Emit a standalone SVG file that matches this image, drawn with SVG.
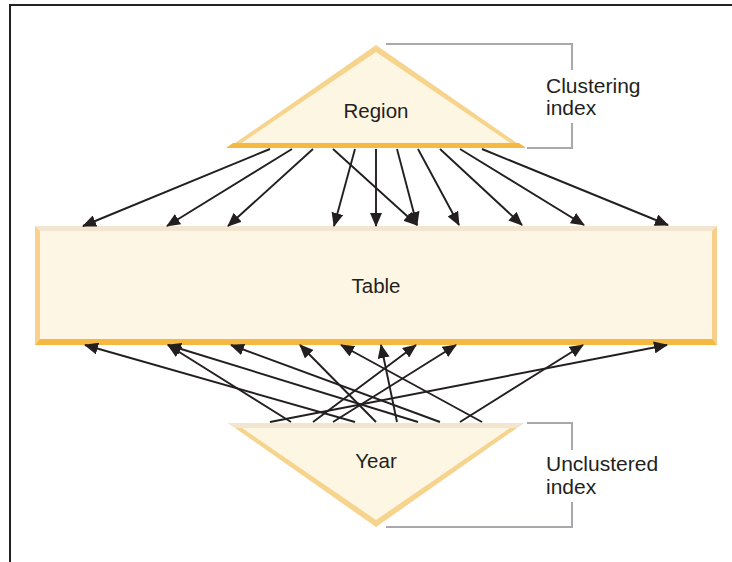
<svg xmlns="http://www.w3.org/2000/svg" width="732" height="562" viewBox="0 0 732 562">
<style>
.lbl{font-family:"Liberation Sans",Arial,sans-serif;font-size:20.5px;fill:#231f20}
.side{font-family:"Liberation Sans",Arial,sans-serif;font-size:21px;fill:#231f20}
.arr{stroke:#231f20;stroke-width:1.9;fill:none;marker-end:url(#ah)}
.br{stroke:#a9a9ad;stroke-width:2;fill:none}
</style>
<defs>
<marker id="ah" viewBox="0 0 14 12" refX="13" refY="6" markerWidth="14" markerHeight="12" markerUnits="userSpaceOnUse" orient="auto">
<path d="M0,0 L14,6 L0,12 Z" fill="#231f20"/>
</marker>
</defs>
<rect width="732" height="562" fill="#ffffff"/>
<path d="M10,562 V5 H732" stroke="#222" stroke-width="2" fill="none"/>
<g id="region">
<polygon points="376,45 228,148 524,148" fill="#f7d48e"/>
<polygon points="376,52 240,144 512,144" fill="#fdf6e2"/>
<polygon points="233,143 519,143 526,148 226,148" fill="#f5b841"/>
<text class="lbl" x="376" y="118" text-anchor="middle">Region</text>
</g>
<g id="clustering-index">
<path class="br" d="M386,44 H572 V70 M572,123 V148 H527"/>
<text class="side" x="546" y="93">Clustering</text>
<text class="side" x="546" y="115">index</text>
</g>
<g id="table">
<rect x="35" y="226" width="682" height="119" fill="#fef6e4"/>
<polygon points="35,226 717,226 712,231 40,231" fill="#f3e6d0"/>
<polygon points="35,226 40,231 40,340 35,345" fill="#f8d28c"/>
<polygon points="717,226 712,231 712,340 717,345" fill="#f5cf8b"/>
<polygon points="35,345 40,339 712,339 717,345" fill="#f5b841"/>
<text class="lbl" x="376" y="293" text-anchor="middle">Table</text>
</g>
<g id="year">
<polygon points="228,423 524,423 376,527" fill="#f7d48e"/>
<polygon points="242,428 510,428 376,520" fill="#fdf6e2"/>
<polygon points="228,423 524,423 517,428 235,428" fill="#f3e6d0"/>
<text class="lbl" x="376" y="468" text-anchor="middle">Year</text>
</g>
<g id="unclustered-index">
<path class="br" d="M527,423 H572 V450 M572,502 V527 H386"/>
<text class="side" x="546" y="471">Unclustered</text>
<text class="side" x="546" y="494">index</text>
</g>
<g id="connectors">
<line class="arr" x1="270" y1="149" x2="83" y2="226"/>
<line class="arr" x1="292" y1="149" x2="167" y2="226"/>
<line class="arr" x1="313" y1="149" x2="228" y2="226"/>
<line class="arr" x1="333" y1="149" x2="417" y2="225"/>
<line class="arr" x1="355" y1="149" x2="334" y2="226"/>
<line class="arr" x1="376" y1="149" x2="376" y2="226"/>
<line class="arr" x1="397" y1="149" x2="417" y2="225"/>
<line class="arr" x1="418" y1="149" x2="459" y2="225"/>
<line class="arr" x1="440" y1="149" x2="522" y2="225"/>
<line class="arr" x1="460" y1="149" x2="584" y2="225"/>
<line class="arr" x1="482" y1="149" x2="668" y2="225"/>
<line class="arr" x1="355" y1="422" x2="85" y2="345"/>
<line class="arr" x1="291" y1="422" x2="168" y2="345"/>
<line class="arr" x1="418" y1="422" x2="168" y2="345"/>
<line class="arr" x1="440" y1="422" x2="231" y2="345"/>
<line class="arr" x1="376" y1="422" x2="300" y2="345"/>
<line class="arr" x1="482" y1="422" x2="341" y2="345"/>
<line class="arr" x1="397" y1="422" x2="381" y2="345"/>
<line class="arr" x1="313" y1="422" x2="416" y2="345"/>
<line class="arr" x1="333" y1="422" x2="456" y2="345"/>
<line class="arr" x1="460" y1="422" x2="583" y2="345"/>
<line class="arr" x1="270" y1="422" x2="667" y2="345"/>
</g>
</svg>
